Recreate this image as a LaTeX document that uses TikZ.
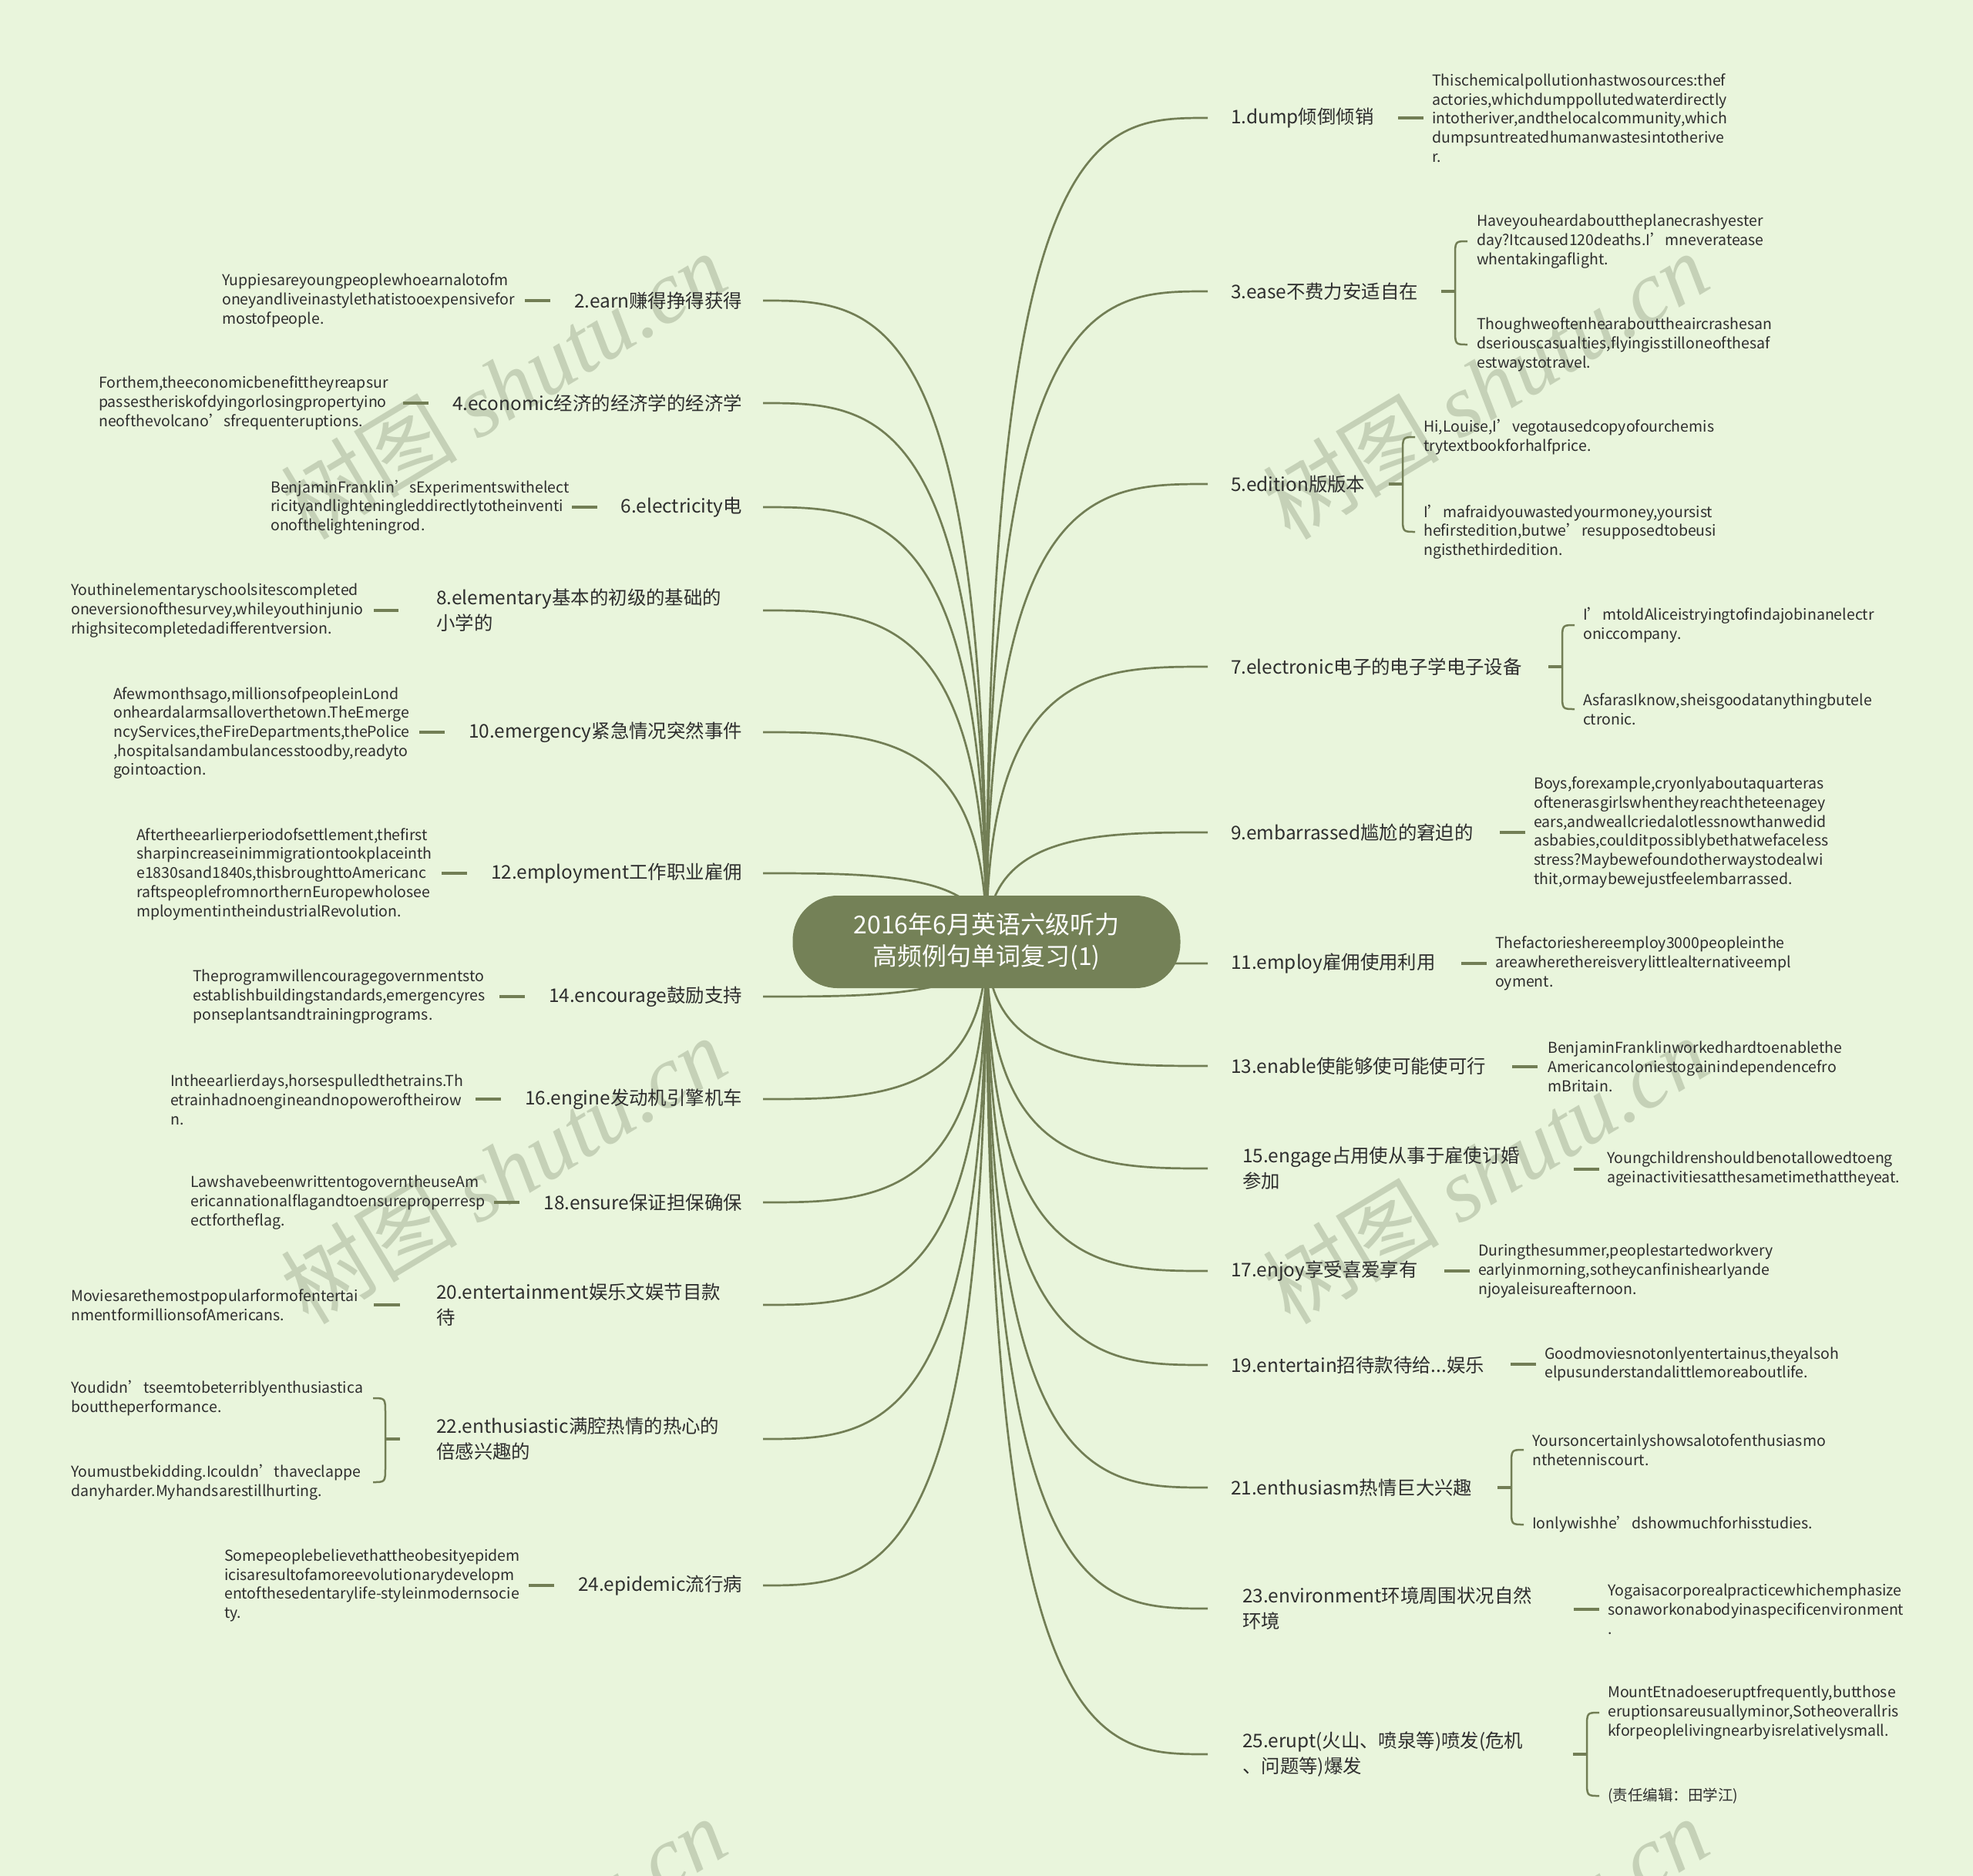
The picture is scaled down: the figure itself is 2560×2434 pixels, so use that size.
\documentclass[tikz,border=0pt]{standalone}
\usepackage{fontspec}
\setmainfont{Noto Sans CJK SC}
\newfontfamily\wmserif{Liberation Serif}
\usetikzlibrary{calc}
\definecolor{bg}{HTML}{E9F5DC}
\definecolor{ln}{HTML}{727E55}
\definecolor{rootc}{HTML}{748157}
\definecolor{tx}{HTML}{2E2E2E}
\definecolor{wm}{HTML}{C5D1B7}
\newcommand\brto[1]{\draw[br] (root.center) .. controls (root.center |- #1) and ($(root.center |- #1)!0.5!(#1)$) .. (#1);}
\newcommand\bracR[3]{\draw[brc] ($(#1 |- #2.west)+(16,0)$) .. controls (#1 |- #2.west) .. ($(#1 |- #2.west)+(0,20)$) -- ($(#1 |- #3.west)+(0,-20)$) .. controls (#1 |- #3.west) .. ($(#1 |- #3.west)+(16,0)$);
\draw[dl] (#1) -- ++(-18,0);}
\newcommand\bracL[3]{\draw[brc] ($(#1 |- #2.west)+(-16,0)$) .. controls (#1 |- #2.west) .. ($(#1 |- #2.west)+(0,20)$) -- ($(#1 |- #3.west)+(0,-20)$) .. controls (#1 |- #3.west) .. ($(#1 |- #3.west)+(-16,0)$);
\draw[dl] (#1) -- ++(19,0);}
\begin{document}
\begin{tikzpicture}[x=1pt,y=-1pt,
  lab/.style={inner sep=0pt, text=tx, font=\fontsize{24.4}{33}\selectfont, align=left},
  labR/.style={lab, anchor=west},
  labL/.style={lab, anchor=east},
  sub/.style={inner sep=0pt, text=tx, font=\fontsize{19.5}{24.7}\selectfont, align=left, anchor=west},
  br/.style={draw=ln, line width=2.7pt},
  dl/.style={draw=ln, line width=3.2pt},
  brc/.style={draw=ln, line width=2.5pt}]
\useasboundingbox (0,0) rectangle (2560,2434);
\fill[bg] (0,0) rectangle (2560,2434);
% watermarks
\begin{scope}
\clip (0,0) rectangle (2560,2434);
\foreach \x/\y [count=\i] in {653/500, 1927/500, 653/1518, 1927/1518, 653/2531, 1927/2531}
  \node[text=wm, rotate=31, font=\fontsize{115}{115}\selectfont] (wm\i) at (\x,\y) {树图 {\wmserif\itshape shutu.cn}};
\end{scope}
% branch end points
\foreach \n/\y in {1/153, 3/378, 5/628, 7/865, 9/1080, 11/1250, 13/1383, 15/1516, 17/1649, 19/1771, 21/1930, 23/2087, 25/2276}
  \coordinate (e\n) at (1567,\y);
\foreach \n/\y in {2/390, 4/523, 6/658, 8/792, 10/950, 12/1133, 14/1293, 16/1426, 18/1560, 20/1693, 22/1867, 24/2057}
  \coordinate (e\n) at (990,\y);
\coordinate (rc) at (1280,1222);
\node[inner sep=0pt, minimum size=1pt] (root) at (rc) {};
\foreach \n in {1,...,25} { \brto{e\n} }
% root node
\node[fill=rootc, rounded corners=58pt, minimum width=503pt, minimum height=120pt, text=white, align=center, font=\fontsize{32}{41}\selectfont] (title) at (rc) {2016年6月英语六级听力\\高频例句单词复习(1)};

% ---------- right side ----------
\node[labR] (L1) at (1597,153) {1.dump倾倒倾销};
\node[sub] (C1) at (1858,153) {Thischemicalpollutionhastwosources:thef\\actories,whichdumppollutedwaterdirectly\\intotheriver,andthelocalcommunity,which\\dumpsuntreatedhumanwastesintotherive\\r.};
\draw[dl] ([xshift=-11pt]C1.west) -- ++(-33,0);

\node[labR] (L3) at (1597,378) {3.ease不费力安适自在};
\node[sub] (C3a) at (1916,313) {Haveyouheardabouttheplanecrashyester\\day?Itcaused120deaths.I’mneveratease\\whentakingaflight.};
\node[sub] (C3b) at (1916,447) {Thoughweoftenhearabouttheaircrashesan\\dseriouscasualties,flyingisstilloneofthesaf\\estwaystotravel.};
\coordinate (J3) at (1888,378);
\bracR{J3}{C3a}{C3b}

\node[labR] (L5) at (1597,628) {5.edition版版本};
\node[sub] (C5a) at (1847,567) {Hi,Louise,I’vegotausedcopyofourchemis\\trytextbookforhalfprice.};
\node[sub] (C5b) at (1847,690) {I’mafraidyouwastedyourmoney,yoursist\\hefirstedition,butwe’resupposedtobeusi\\ngisthethirdedition.};
\coordinate (J5) at (1820,628);
\bracR{J5}{C5a}{C5b}

\node[labR] (L7) at (1597,865) {7.electronic电子的电子学电子设备};
\node[sub] (C7a) at (2054,811) {I’mtoldAliceistryingtofindajobinanelectr\\oniccompany.};
\node[sub] (C7b) at (2054,920) {AsfarasIknow,sheisgoodatanythingbutele\\ctronic.};
\coordinate (J7) at (2027,865);
\bracR{J7}{C7a}{C7b}

\node[labR] (L9) at (1597,1080) {9.embarrassed尴尬的窘迫的};
\node[sub] (C9) at (1990,1080) {Boys,forexample,cryonlyaboutaquarteras\\oftenerasgirlswhentheyreachtheteenagey\\ears,andweallcriedalotlessnowthanwedid\\asbabies,coulditpossiblybethatwefaceless\\stress?Maybewefoundotherwaystodealwi\\thit,ormaybewejustfeelembarrassed.};
\draw[dl] ([xshift=-11pt]C9.west) -- ++(-33,0);

\node[labR] (L11) at (1597,1250) {11.employ雇佣使用利用};
\node[sub] (C11) at (1940,1250) {Thefactorieshereemploy3000peopleinthe\\areawherethereisverylittlealternativeempl\\oyment.};
\draw[dl] ([xshift=-11pt]C11.west) -- ++(-33,0);

\node[labR] (L13) at (1597,1383) {13.enable使能够使可能使可行};
\node[sub] (C13) at (2008,1384) {BenjaminFranklinworkedhardtoenablethe\\Americancoloniestogainindependencefro\\mBritain.};
\draw[dl] ([xshift=-13pt]C13.west) -- ++(-33,0);

\node[labR] (L15) at (1612,1516) {15.engage占用使从事于雇使订婚\\参加};
\node[sub] (C15) at (2085,1517) {Youngchildrenshouldbenotallowedtoeng\\ageinactivitiesatthesametimethattheyeat.};
\draw[dl] ([xshift=-10pt]C15.west) -- ++(-33,0);

\node[labR] (L17) at (1597,1649) {17.enjoy享受喜爱享有};
\node[sub] (C17) at (1918,1649) {Duringthesummer,peoplestartedworkvery\\earlyinmorning,sotheycanfinishearlyande\\njoyaleisureafternoon.};
\draw[dl] ([xshift=-11pt]C17.west) -- ++(-33,0);

\node[labR] (L19) at (1597,1771) {19.entertain招待款待给...娱乐};
\node[sub] (C19) at (2004,1770) {Goodmoviesnotonlyentertainus,theyalsoh\\elpusunderstandalittlemoreaboutlife.};
\draw[dl] ([xshift=-11pt]C19.west) -- ++(-33,0);

\node[labR] (L21) at (1597,1930) {21.enthusiasm热情巨大兴趣};
\node[sub] (C21a) at (1988,1881) {Yoursoncertainlyshowsalotofenthusiasmo\\nthetenniscourt.};
\node[sub] (C21b) at (1988,1978) {Ionlywishhe’dshowmuchforhisstudies.};
\coordinate (J21) at (1961,1930);
\bracR{J21}{C21a}{C21b}

\node[labR] (L23) at (1612,2087) {23.environment环境周围状况自然\\环境};
\node[sub] (C23) at (2086,2088) {Yogaisacorporealpracticewhichemphasize\\sonaworkonabodyinaspecificenvironment\\.};
\draw[dl] ([xshift=-11pt]C23.west) -- ++(-33,0);

\node[labR] (L25) at (1612,2276) {25.erupt(火山、喷泉等)喷发(危机\\、问题等)爆发};
\node[sub] (C25a) at (2086,2222) {MountEtnadoeseruptfrequently,butthose\\eruptionsareusuallyminor,Sotheoverallris\\kforpeoplelivingnearbyisrelativelysmall.};
\node[sub] (C25b) at (2086,2330) {(责任编辑：田学江)};
\coordinate (J25) at (2059,2276);
\bracR{J25}{C25a}{C25b}

% ---------- left side ----------
\node[labL] (L2) at (963,390) {2.earn赚得挣得获得};
\node[sub] (C2) at (288,390) {Yuppiesareyoungpeoplewhoearnalotofm\\oneyandliveinastylethatistooexpensivefor\\mostofpeople.};
\draw[dl] ([xshift=-31pt]L2.west) -- ++(-33,0);

\node[labL] (L4) at (963,523) {4.economic经济的经济学的经济学};
\node[sub] (C4) at (128,523) {Forthem,theeconomicbenefittheyreapsur\\passestheriskofdyingorlosingpropertyino\\neofthevolcano’sfrequenteruptions.};
\draw[dl] ([xshift=-31pt]L4.west) -- ++(-33,0);

\node[labL] (L6) at (963,658) {6.electricity电};
\node[sub] (C6) at (351,658) {BenjaminFranklin’sExperimentswithelect\\ricityandlighteningleddirectlytotheinventi\\onofthelighteningrod.};
\draw[dl] ([xshift=-31pt]L6.west) -- ++(-33,0);

\node[labR] (L8) at (566,792) {8.elementary基本的初级的基础的\\小学的};
\node[sub] (C8) at (92,792) {Youthinelementaryschoolsitescompleted\\oneversionofthesurvey,whileyouthinjunio\\rhighsitecompletedadifferentversion.};
\draw[dl] ([xshift=-49pt]L8.west) -- ++(-32,0);

\node[labL] (L10) at (963,950) {10.emergency紧急情况突然事件};
\node[sub] (C10) at (147,951) {Afewmonthsago,millionsofpeopleinLond\\onheardalarmsalloverthetown.TheEmerge\\ncyServices,theFireDepartments,thePolice\\,hospitalsandambulancesstoodby,readyto\\gointoaction.};
\draw[dl] ([xshift=-31pt]L10.west) -- ++(-33,0);

\node[labL] (L12) at (963,1133) {12.employment工作职业雇佣};
\node[sub] (C12) at (177,1134) {Aftertheearlierperiodofsettlement,thefirst\\sharpincreaseinimmigrationtookplaceinth\\e1830sand1840s,thisbroughttoAmericanc\\raftspeoplefromnorthernEuropewholosee\\mploymentintheindustrialRevolution.};
\draw[dl] ([xshift=-31pt]L12.west) -- ++(-33,0);

\node[labL] (L14) at (963,1293) {14.encourage鼓励支持};
\node[sub] (C14) at (250,1293) {Theprogramwillencouragegovernmentsto\\establishbuildingstandards,emergencyres\\ponseplantsandtrainingprograms.};
\draw[dl] ([xshift=-31pt]L14.west) -- ++(-33,0);

\node[labL] (L16) at (963,1426) {16.engine发动机引擎机车};
\node[sub] (C16) at (221,1427) {Intheearlierdays,horsespulledthetrains.Th\\etrainhadnoengineandnopoweroftheirow\\n.};
\draw[dl] ([xshift=-31pt]L16.west) -- ++(-33,0);

\node[labL] (L18) at (963,1560) {18.ensure保证担保确保};
\node[sub] (C18) at (247,1560) {LawshavebeenwrittentogoverntheuseAm\\ericannationalflagandtoensureproperresp\\ectfortheflag.};
\draw[dl] ([xshift=-31pt]L18.west) -- ++(-33,0);

\node[labR] (L20) at (566,1693) {20.entertainment娱乐文娱节目款\\待};
\node[sub] (C20) at (92,1693) {Moviesarethemostpopularformofentertai\\nmentformillionsofAmericans.};
\draw[dl] ([xshift=-47pt]L20.west) -- ++(-34,0);

\node[labR] (L22) at (566,1867) {22.enthusiastic满腔热情的热心的\\倍感兴趣的};
\node[sub] (C22a) at (92,1814) {Youdidn’tseemtobeterriblyenthusiastica\\bouttheperformance.};
\node[sub] (C22b) at (92,1923) {Youmustbekidding.Icouldn’thaveclappe\\danyharder.Myhandsarestillhurting.};
\coordinate (J22) at (500,1867);
\bracL{J22}{C22a}{C22b}

\node[labL] (L24) at (963,2057) {24.epidemic流行病};
\node[sub] (C24) at (291,2057) {Somepeoplebelievethattheobesityepidem\\icisaresultofamoreevolutionarydevelopm\\entofthesedentarylife-styleinmodernsocie\\ty.};
\draw[dl] ([xshift=-31pt]L24.west) -- ++(-33,0);
\end{tikzpicture}
\end{document}
